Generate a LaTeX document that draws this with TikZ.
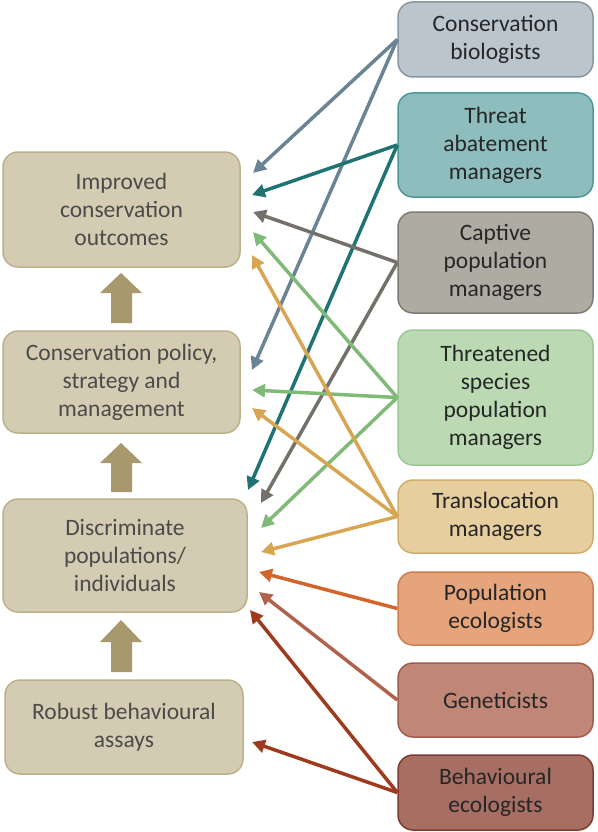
\documentclass[tikz,border=0pt]{standalone}
\usepackage{fontspec}
\setmainfont{Carlito}
\usetikzlibrary{arrows.meta,calc}
\definecolor{lfill}{HTML}{D4CCB2}
\definecolor{ldraw}{HTML}{BCB08C}
\definecolor{ltext}{HTML}{4A4A4A}
\definecolor{rtext}{HTML}{262626}
\definecolor{barrow}{HTML}{A8996C}
\definecolor{cbF}{HTML}{BAC5CE}\definecolor{cbD}{HTML}{8796A0}\definecolor{cbA}{HTML}{6A8494}
\definecolor{taF}{HTML}{8DBDBD}\definecolor{taD}{HTML}{4D9898}\definecolor{taA}{HTML}{1F7373}
\definecolor{cpF}{HTML}{AEABA3}\definecolor{cpD}{HTML}{7E7B73}\definecolor{cpA}{HTML}{74706A}
\definecolor{tsF}{HTML}{BBDAB4}\definecolor{tsD}{HTML}{9CC793}\definecolor{tsA}{HTML}{80BA78}
\definecolor{tmF}{HTML}{E6CE9F}\definecolor{tmD}{HTML}{D2AE6C}\definecolor{tmA}{HTML}{D8A553}
\definecolor{peF}{HTML}{E5A47C}\definecolor{peD}{HTML}{CD7E4C}\definecolor{peA}{HTML}{D2662A}
\definecolor{geF}{HTML}{C08776}\definecolor{geD}{HTML}{A25C4B}\definecolor{geA}{HTML}{B0624D}
\definecolor{beF}{HTML}{A76E64}\definecolor{beD}{HTML}{7F3A30}\definecolor{beA}{HTML}{A03A1E}
\tikzset{
  x=1pt,y=-1pt,
  lbox/.style={draw=ldraw,fill=lfill,line width=1.5pt,rounded corners=15pt,align=center,
    text=ltext,font=\fontsize{23.5}{28}\selectfont,inner sep=0pt},
  rbox/.style={line width=1.5pt,rounded corners=15pt,align=center,text=rtext,
    font=\fontsize{23.5}{28}\selectfont,inner sep=0pt,minimum width=195pt},
  conn/.style={line width=3.5pt,-{Triangle[length=13pt,width=13pt]}},
  blockarrow/.style={fill=barrow,draw=none}
}
\begin{document}
\begin{tikzpicture}
\useasboundingbox (0,0) rectangle (597,832);
% left boxes
\node[lbox,minimum width=237pt,minimum height=115pt] (imp) at (121.5,209.5) {Improved\\conservation\\outcomes};
\node[lbox,minimum width=237pt,minimum height=102pt] (pol) at (121.5,382) {Conservation policy,\\strategy and\\management};
\node[lbox,minimum width=244pt,minimum height=113pt] (dis) at (125,555.5) {Discriminate\\populations/\\individuals};
\node[lbox,minimum width=238pt,minimum height=94pt] (rob) at (124,727) {Robust behavioural\\assays};
% block arrows
\fill[blockarrow] (121,273) -- (142,293) -- (132,293) -- (132,323) -- (111,323) -- (111,293) -- (100,293) -- cycle;
\fill[blockarrow] (121,443) -- (142,463) -- (132,463) -- (132,492) -- (111,492) -- (111,463) -- (100,463) -- cycle;
\fill[blockarrow] (121,620) -- (142,642) -- (132,642) -- (132,672) -- (111,672) -- (111,642) -- (100,642) -- cycle;
% right boxes
\node[rbox,draw=cbD,fill=cbF,minimum height=75pt] (cb) at (495.5,39.5) {Conservation\\biologists};
\node[rbox,draw=taD,fill=taF,minimum height=104pt] (ta) at (495.5,145) {Threat\\abatement\\managers};
\node[rbox,draw=cpD,fill=cpF,minimum height=101pt] (cp) at (495.5,262.5) {Captive\\population\\managers};
\node[rbox,draw=tsD,fill=tsF,minimum height=135pt] (ts) at (495.5,397.5) {Threatened\\species\\population\\managers};
\node[rbox,draw=tmD,fill=tmF,minimum height=73pt] (tm) at (495.5,516.5) {Translocation\\managers};
\node[rbox,draw=peD,fill=peF,minimum height=73pt] (pe) at (495.5,608.5) {Population\\ecologists};
\node[rbox,draw=geD,fill=geF,minimum height=74pt] (ge) at (495.5,700) {Geneticists};
\node[rbox,draw=beD,fill=beF,minimum height=75pt] (be) at (495.5,792.5) {Behavioural\\ecologists};
% arrow tips
\coordinate (i1) at (253,173);
\coordinate (i2) at (252,195);
\coordinate (i3) at (253,212);
\coordinate (i4) at (253,232);
\coordinate (i5) at (252,255);
\coordinate (p1) at (252,370);
\coordinate (p2) at (252,390);
\coordinate (p3) at (252,408);
\coordinate (d1) at (248,490);
\coordinate (d2) at (261,503);
\coordinate (d3) at (261,528);
\coordinate (d4) at (261,552);
\coordinate (d5) at (259,572);
\coordinate (d6) at (259,592);
\coordinate (d7) at (250,610);
\coordinate (r1) at (252,742);
% connectors
\draw[conn,cbA] (cb.west) -- (i1);
\draw[conn,cbA] (cb.west) -- (p1);
\draw[conn,taA] (ta.west) -- (i2);
\draw[conn,taA] (ta.west) -- (d1);
\draw[conn,cpA] (cp.west) -- (i3);
\draw[conn,cpA] (cp.west) -- (d2);
\draw[conn,tsA] (ts.west) -- (i4);
\draw[conn,tsA] (ts.west) -- (p2);
\draw[conn,tsA] (ts.west) -- (d3);
\draw[conn,tmA] (tm.west) -- (i5);
\draw[conn,tmA] (tm.west) -- (p3);
\draw[conn,tmA] (tm.west) -- (d4);
\draw[conn,peA] (pe.west) -- (d5);
\draw[conn,geA] (ge.west) -- (d6);
\draw[conn,beA] (be.west) -- (d7);
\draw[conn,beA] (be.west) -- (r1);
\end{tikzpicture}
\end{document}
